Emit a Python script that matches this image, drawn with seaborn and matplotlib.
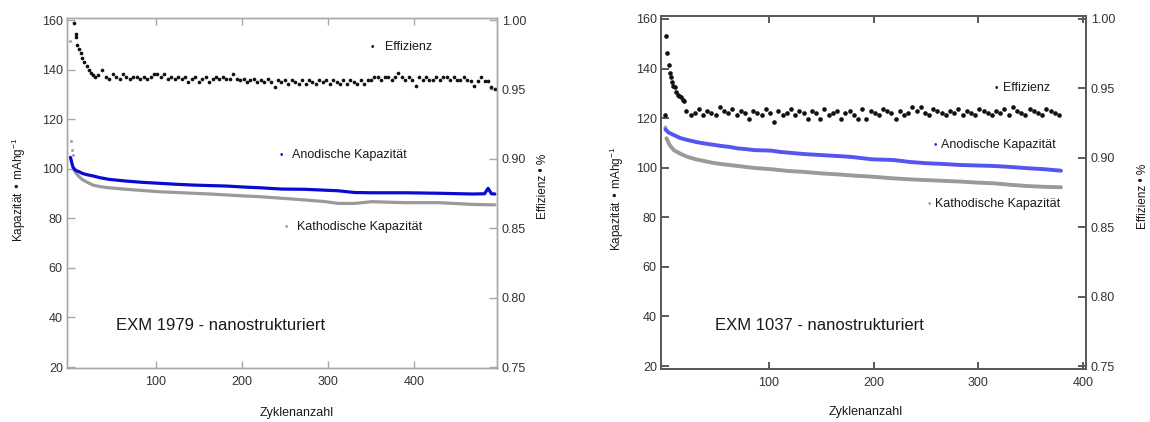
import matplotlib
matplotlib.use("Agg")
import matplotlib.pyplot as plt
import seaborn as sns
import numpy as np

# ---------------- data: left panel (EXM 1979) ----------------
L_anod_cyc = [1, 2, 3, 4, 6, 8, 11, 15, 20, 27, 35, 46, 66, 85, 105, 125, 144, 163,
              183, 203, 222, 246, 273, 312, 331, 351, 390, 429, 468, 482, 486, 490, 494]
L_anod_val = [104.6, 103.2, 101.8, 100.6, 99.7, 99.2, 98.8, 98.1, 97.6, 97.1, 96.4,
              95.7, 95.0, 94.5, 94.1, 93.7, 93.4, 93.2, 93.0, 92.6, 92.3, 91.8, 91.7,
              91.1, 90.4, 90.3, 90.3, 90.1, 89.8, 89.9, 92.1, 89.9, 89.8]

L_kath_early_cyc = [1, 2, 3, 4]
L_kath_early_val = [151.5, 111.3, 107.5, 105.5]
L_kath_cyc = [5, 8, 11, 15, 19, 27, 35, 46, 66, 85, 105, 125, 144, 163, 183, 203, 222,
              246, 273, 295, 312, 331, 351, 370, 390, 429, 468, 494]
L_kath_val = [99.5, 98.0, 96.8, 95.6, 94.8, 93.4, 92.8, 92.3, 91.7, 91.2, 90.7, 90.4,
              90.1, 89.8, 89.4, 89.0, 88.7, 88.1, 87.4, 86.8, 86.0, 86.0, 86.7, 86.5,
              86.3, 86.3, 85.6, 85.4]

L_eff_cyc = [5, 7, 8, 9, 11, 13, 15, 17, 20, 22, 25, 27, 30, 33] + list(range(38, 495, 4))
L_eff_val = [0.9977, 0.9896, 0.988, 0.982, 0.9789, 0.9761, 0.9723, 0.970, 0.9668,
             0.9639, 0.962, 0.9604, 0.9588, 0.9604,
             # 38 - 94
             0.964, 0.9588, 0.9575, 0.961, 0.9588, 0.9575, 0.961, 0.9588, 0.9575,
             0.9588, 0.9588, 0.9575, 0.9588, 0.9575, 0.9588,
             # 98 - 190
             0.961, 0.961, 0.9588, 0.961, 0.9575, 0.9588, 0.9575, 0.9588, 0.9575,
             0.9588, 0.955, 0.9575, 0.9588, 0.955, 0.9575, 0.9588, 0.955, 0.9575,
             0.9588, 0.9575, 0.9588, 0.9575, 0.9575, 0.961,
             # 194 - 270
             0.9575, 0.9568, 0.9575, 0.9555, 0.9568, 0.9575, 0.9555, 0.9568, 0.9555,
             0.9575, 0.9555, 0.952, 0.9568, 0.9555, 0.9568, 0.9537, 0.9568, 0.9555,
             0.9537, 0.9568,
             # 274 - 350
             0.9537, 0.9568, 0.9555, 0.9537, 0.9568, 0.9555, 0.9568, 0.9537, 0.9568,
             0.9555, 0.9537, 0.9568, 0.9537, 0.9568, 0.9555, 0.9537, 0.9568, 0.9537,
             0.9568, 0.9568,
             # 354 - 462
             0.9588, 0.9588, 0.9568, 0.9588, 0.9588, 0.9568, 0.9588, 0.962, 0.9588,
             0.9568, 0.9588, 0.9568, 0.9525, 0.9588, 0.9568, 0.9588, 0.9568, 0.9568,
             0.9588, 0.9568, 0.9588, 0.9588, 0.9568, 0.9588, 0.9568, 0.9568, 0.9588,
             0.9568,
             # 466 - 494
             0.956, 0.9525, 0.956, 0.9588, 0.956, 0.956, 0.9515, 0.950]

# ---------------- data: right panel (EXM 1037) ----------------
R_anod_cyc = [1, 4, 9, 15, 22, 30, 38, 46, 54, 62, 70, 78, 86, 94, 102, 110, 118, 126,
              134, 142, 150, 158, 166, 174, 182, 190, 198, 219, 235, 251, 267, 283,
              299, 315, 331, 347, 363, 379]
R_anod_val = [115.5, 114.2, 113.2, 112.0, 111.2, 110.4, 109.8, 109.3, 108.8, 108.4,
              107.8, 107.5, 107.1, 107.0, 106.9, 106.4, 106.1, 105.8, 105.5, 105.3,
              105.1, 104.9, 104.7, 104.5, 104.2, 103.8, 103.4, 103.1, 102.3, 101.8,
              101.5, 101.1, 100.9, 100.7, 100.3, 99.8, 99.4, 98.8]

R_kath_early_cyc = [1]
R_kath_early_val = [116.5]
R_kath_cyc = [2, 5, 9, 16, 22, 30, 38, 46, 54, 62, 70, 86, 102, 118, 134, 150, 166, 182,
              198, 219, 235, 251, 267, 283, 299, 315, 331, 347, 363, 379]
R_kath_val = [111.9, 109.2, 107.1, 105.5, 104.4, 103.4, 102.7, 102.0, 101.5, 101.1,
              100.7, 99.9, 99.4, 98.7, 98.3, 97.7, 97.3, 96.8, 96.4, 95.7, 95.3, 95.0,
              94.7, 94.4, 94.0, 93.7, 93.1, 92.6, 92.3, 92.1]

R_eff_cyc = [1, 2, 3, 4, 5, 6, 7, 8, 10, 11, 13, 14, 16, 18, 19] + list(range(21, 378, 4))
R_eff_val = [0.9309, 0.988, 0.9757, 0.9668, 0.9609, 0.958, 0.9548, 0.9518, 0.9507,
             0.9477, 0.9452, 0.9446, 0.9441, 0.9416, 0.9411,
             # 21 - 377 step 4
             0.9336, 0.9309, 0.9321, 0.935, 0.9309, 0.9336, 0.9321, 0.9309, 0.9368,
             0.9336, 0.9321, 0.935, 0.9309, 0.9336, 0.9321, 0.9282, 0.9336, 0.9321,
             0.9309, 0.935, 0.9321, 0.9255, 0.9336, 0.9309, 0.9321, 0.935, 0.9309,
             0.9336, 0.9321, 0.9282, 0.9336, 0.9321, 0.9282, 0.935, 0.9309, 0.9321,
             0.9336, 0.9282, 0.9321, 0.9336, 0.9309, 0.9282, 0.935, 0.9282, 0.9336,
             0.9321, 0.9309, 0.935, 0.9336, 0.9321, 0.9282, 0.9336, 0.9309, 0.9321,
             0.9368, 0.9336, 0.9368, 0.9321, 0.9309, 0.935, 0.9336, 0.9321, 0.9309,
             0.9336, 0.9321, 0.935, 0.9309, 0.9336, 0.9321, 0.9309, 0.935, 0.9336,
             0.9321, 0.9309, 0.9336, 0.9321, 0.935, 0.9309, 0.9368, 0.9336, 0.9321,
             0.9309, 0.935, 0.9336, 0.9321, 0.9309, 0.935, 0.9336, 0.9321, 0.9309]

x_ticks = [100, 200, 300, 400]
cap_ticks = [20, 40, 60, 80, 100, 120, 140, 160]
eff_ticks = [0.75, 0.80, 0.85, 0.90, 0.95, 1.00]
eff_labels = ["0.75", "0.80", "0.85", "0.90", "0.95", "1.00"]

sns.set_theme(style="white")
plt.rcParams["font.family"] = ["Liberation Sans", "DejaVu Sans"]
plt.rcParams["mathtext.default"] = "regular"

W, H = 1150, 422
fig = plt.figure(figsize=(W / 100, H / 100), dpi=100)


def cap_to_eff(v):
    return 0.75 + (v - 20) / 560.0


def make_panel(px0, px1, ptop, pbot, xlim, ylim, spine_col, spine_lw,
               anod, kath_early, kath, eff, blue, line_w, dot_s, eff_col,
               title, title_px, labels, ylab_px, ylab2_px, xlab_px):
    ax = fig.add_axes([px0 / W, 1 - pbot / H, (px1 - px0) / W, (pbot - ptop) / H])
    ax2 = ax.twinx()
    w = px1 - px0
    h = pbot - ptop

    def fx(px):
        return (px - px0) / w

    def fy(py):
        return (pbot - py) / h

    sns.lineplot(x=kath[0], y=kath[1], ax=ax, color="#9a9a9a", linewidth=line_w,
                 estimator=None, sort=False, legend=False)
    sns.scatterplot(x=kath_early[0], y=kath_early[1], ax=ax, color="#a8a8a8",
                    s=dot_s * 0.7, linewidth=0, legend=False)
    sns.lineplot(x=anod[0], y=anod[1], ax=ax, color=blue, linewidth=line_w,
                 estimator=None, sort=False, legend=False)
    sns.scatterplot(x=eff[0], y=eff[1], ax=ax2, color=eff_col, s=dot_s,
                    linewidth=0, legend=False)

    ax.set_xlim(*xlim)
    ax.set_ylim(*ylim)
    ax2.set_ylim(cap_to_eff(ylim[0]), cap_to_eff(ylim[1]))
    ax.set_xticks(x_ticks)
    ax.set_xticklabels([str(t) for t in x_ticks])
    ax.set_yticks(cap_ticks)
    ax.set_yticklabels([str(t) for t in cap_ticks])
    ax2.set_yticks(eff_ticks)
    ax2.set_yticklabels(eff_labels)

    for a in (ax, ax2):
        for s in a.spines.values():
            s.set_color(spine_col)
            s.set_linewidth(spine_lw)
            s.set_visible(True)
        a.grid(False)
    ax.tick_params(axis="x", direction="in", length=5, width=spine_lw, top=True,
                   bottom=True, color=spine_col, labelsize=9, labelcolor="#333333", pad=6)
    ax.tick_params(axis="y", direction="in", length=6, width=spine_lw, left=True,
                   color=spine_col, labelsize=9, labelcolor="#333333", pad=3)
    ax2.tick_params(axis="y", direction="in", length=6, width=spine_lw, right=True,
                    color=spine_col, labelsize=9, labelcolor="#333333", pad=3.5)
    ax.set_xlabel("")
    ax.set_ylabel("")
    ax2.set_ylabel("")

    ax.text(fx(title_px[0]), fy(title_px[1]), title, transform=ax.transAxes,
            fontsize=12, color="#1a1a1a", ha="left", va="center")
    for (dx, tx, ty, txt, col) in labels:
        ax.text(fx(dx), fy(ty), "\u2022", transform=ax.transAxes, fontsize=7,
                color=col, ha="center", va="center")
        ax.text(fx(tx), fy(ty), txt, transform=ax.transAxes, fontsize=9,
                color="#1a1a1a", ha="left", va="center")

    ax.text(fx(ylab_px[0]), fy(ylab_px[1]), "Kapazität \u2022 mAhg$^{-1}$",
            transform=ax.transAxes, rotation=90, fontsize=8.5, color="#1a1a1a",
            ha="center", va="center")
    ax.text(fx(ylab2_px[0]), fy(ylab2_px[1]), "Effizienz \u2022 %",
            transform=ax.transAxes, rotation=90, fontsize=8.5, color="#1a1a1a",
            ha="center", va="center")
    ax.text(fx(xlab_px[0]), fy(xlab_px[1]), "Zyklenanzahl", transform=ax.transAxes,
            fontsize=9, color="#1a1a1a", ha="center", va="center")
    return ax, ax2


make_panel(67, 497, 18, 368, (-3.0, 496.4), (19.6, 160.81), "#a8a8a8", 1.0,
           (L_anod_cyc, L_anod_val), (L_kath_early_cyc, L_kath_early_val),
           (L_kath_cyc, L_kath_val), (L_eff_cyc, L_eff_val),
           "#0a0ad2", 2.3, 7, "#111111",
           "EXM 1979 - nanostrukturiert", (116, 325),
           [(372, 385, 47, "Effizienz", "#111111"),
            (281, 291.7, 155, "Anodische Kapazität", "#0a0ad2"),
            (286, 296.7, 227, "Kathodische Kapazität", "#a0a0a0")],
           (19, 190), (543, 186), (296.5, 413))

make_panel(661, 1086, 16, 369, (-3.2, 402.9), (18.79, 161.21), "#5a5a5a", 1.4,
           (R_anod_cyc, R_anod_val), (R_kath_early_cyc, R_kath_early_val),
           (R_kath_cyc, R_kath_val), (R_eff_cyc, R_eff_val),
           "#5555f0", 2.8, 11, "#111111",
           "EXM 1037 - nanostrukturiert", (715, 325),
           [(996, 1003.3, 88, "Effizienz", "#111111"),
            (935, 940.7, 145, "Anodische Kapazität", "#3333ee"),
            (929.3, 935, 204, "Kathodische Kapazität", "#a0a0a0")],
           (617, 199), (1143, 196.5), (865.8, 412.3))

fig.savefig("out.png", dpi=100)
